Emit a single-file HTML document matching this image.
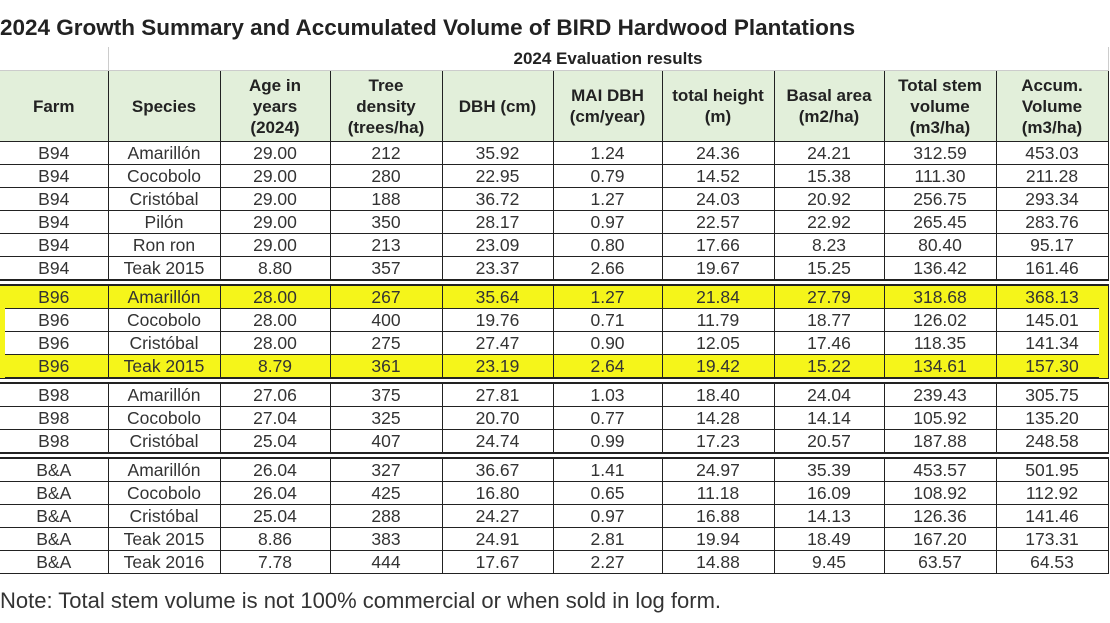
<!DOCTYPE html>
<html><head><meta charset="utf-8"><style>
body{margin:0;width:1110px;height:623px;background:#fff;position:relative;overflow:hidden;font-family:"Liberation Sans",sans-serif;color:#222}
.title{position:absolute;left:0;top:15px;font-size:22.5px;font-weight:bold;color:#222;white-space:nowrap}
.note{position:absolute;left:0;top:588px;font-size:22px;color:#333;white-space:nowrap}
table{position:absolute;left:0;top:47px;border-collapse:collapse;table-layout:fixed;width:1108px}
td{border:1.5px solid #222;text-align:center;font-size:17.5px;padding:0;height:22px;line-height:20px;color:#333;overflow:hidden;white-space:nowrap}
td:first-child{border-left:none}
tr.h td{background:#e2efda;font-weight:bold;height:70px;line-height:21px;color:#222;font-size:17px}
tr.ev td{height:23px;border-color:#ccc;font-weight:bold;font-size:17px;color:#222;border-top:none}
tr.s td{height:3px;border-left:none;border-right:none;border-top:2px solid #222;border-bottom:2px solid #222;background:#fff}
tr.y td{background:#f5f51a}
</style></head><body>
<div class="title">2024 Growth Summary and Accumulated Volume of BIRD Hardwood Plantations</div>
<table>
<colgroup><col style="width:108px"><col style="width:112px"><col style="width:110px"><col style="width:112px"><col style="width:111px"><col style="width:109px"><col style="width:112px"><col style="width:110px"><col style="width:112px"><col style="width:112px"></colgroup>
<tr class="ev"><td style="border-left:none"></td><td colspan="9">2024 Evaluation results</td></tr>
<tr class="h"><td>Farm</td><td>Species</td><td>Age in<br>years<br>(2024)</td><td>Tree<br>density<br>(trees/ha)</td><td>DBH (cm)</td><td>MAI DBH<br>(cm/year)</td><td>total height<br>(m)</td><td>Basal area<br>(m2/ha)</td><td>Total stem<br>volume<br>(m3/ha)</td><td>Accum.<br>Volume<br>(m3/ha)</td></tr>
<tr><td>B94</td><td>Amarillón</td><td>29.00</td><td>212</td><td>35.92</td><td>1.24</td><td>24.36</td><td>24.21</td><td>312.59</td><td>453.03</td></tr>
<tr><td>B94</td><td>Cocobolo</td><td>29.00</td><td>280</td><td>22.95</td><td>0.79</td><td>14.52</td><td>15.38</td><td>111.30</td><td>211.28</td></tr>
<tr><td>B94</td><td>Cristóbal</td><td>29.00</td><td>188</td><td>36.72</td><td>1.27</td><td>24.03</td><td>20.92</td><td>256.75</td><td>293.34</td></tr>
<tr><td>B94</td><td>Pilón</td><td>29.00</td><td>350</td><td>28.17</td><td>0.97</td><td>22.57</td><td>22.92</td><td>265.45</td><td>283.76</td></tr>
<tr><td>B94</td><td>Ron ron</td><td>29.00</td><td>213</td><td>23.09</td><td>0.80</td><td>17.66</td><td>8.23</td><td>80.40</td><td>95.17</td></tr>
<tr><td>B94</td><td>Teak 2015</td><td>8.80</td><td>357</td><td>23.37</td><td>2.66</td><td>19.67</td><td>15.25</td><td>136.42</td><td>161.46</td></tr>
<tr class="s"><td colspan="10"></td></tr>
<tr class="y"><td>B96</td><td>Amarillón</td><td>28.00</td><td>267</td><td>35.64</td><td>1.27</td><td>21.84</td><td>27.79</td><td>318.68</td><td>368.13</td></tr>
<tr><td>B96</td><td>Cocobolo</td><td>28.00</td><td>400</td><td>19.76</td><td>0.71</td><td>11.79</td><td>18.77</td><td>126.02</td><td>145.01</td></tr>
<tr><td>B96</td><td>Cristóbal</td><td>28.00</td><td>275</td><td>27.47</td><td>0.90</td><td>12.05</td><td>17.46</td><td>118.35</td><td>141.34</td></tr>
<tr class="y"><td>B96</td><td>Teak 2015</td><td>8.79</td><td>361</td><td>23.19</td><td>2.64</td><td>19.42</td><td>15.22</td><td>134.61</td><td>157.30</td></tr>
<tr class="s"><td colspan="10"></td></tr>
<tr><td>B98</td><td>Amarillón</td><td>27.06</td><td>375</td><td>27.81</td><td>1.03</td><td>18.40</td><td>24.04</td><td>239.43</td><td>305.75</td></tr>
<tr><td>B98</td><td>Cocobolo</td><td>27.04</td><td>325</td><td>20.70</td><td>0.77</td><td>14.28</td><td>14.14</td><td>105.92</td><td>135.20</td></tr>
<tr><td>B98</td><td>Cristóbal</td><td>25.04</td><td>407</td><td>24.74</td><td>0.99</td><td>17.23</td><td>20.57</td><td>187.88</td><td>248.58</td></tr>
<tr class="s"><td colspan="10"></td></tr>
<tr><td>B&amp;A</td><td>Amarillón</td><td>26.04</td><td>327</td><td>36.67</td><td>1.41</td><td>24.97</td><td>35.39</td><td>453.57</td><td>501.95</td></tr>
<tr><td>B&amp;A</td><td>Cocobolo</td><td>26.04</td><td>425</td><td>16.80</td><td>0.65</td><td>11.18</td><td>16.09</td><td>108.92</td><td>112.92</td></tr>
<tr><td>B&amp;A</td><td>Cristóbal</td><td>25.04</td><td>288</td><td>24.27</td><td>0.97</td><td>16.88</td><td>14.13</td><td>126.36</td><td>141.46</td></tr>
<tr><td>B&amp;A</td><td>Teak 2015</td><td>8.86</td><td>383</td><td>24.91</td><td>2.81</td><td>19.94</td><td>18.49</td><td>167.20</td><td>173.31</td></tr>
<tr><td>B&amp;A</td><td>Teak 2016</td><td>7.78</td><td>444</td><td>17.67</td><td>2.27</td><td>14.88</td><td>9.45</td><td>63.57</td><td>64.53</td></tr>
</table>
<div style="position:absolute;left:0;top:286px;width:5px;height:92px;background:#f5f51a"></div>
<div style="position:absolute;left:1099px;top:286px;width:9px;height:92px;background:#f5f51a"></div>
<div class="note">Note: Total stem volume is not 100% commercial or when sold in log form.</div>
</body></html>
